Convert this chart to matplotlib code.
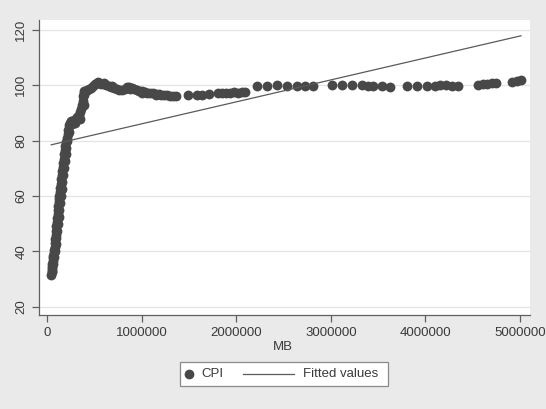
import matplotlib.pyplot as plt
from matplotlib.lines import Line2D
from matplotlib.patches import Rectangle

# money base (MB) and consumer price index (CPI)
mb = [45e3, 48e3, 51e3, 54e3, 57e3, 60e3, 64e3, 68e3, 72e3, 76e3,
      80e3, 84e3, 88e3, 92e3, 96e3, 100e3, 104e3, 108e3, 112e3, 116e3,
      120e3, 124e3, 128e3, 132e3, 136e3, 140e3, 145e3, 150e3, 155e3, 160e3,
      165e3, 170e3, 176e3, 182e3, 188e3, 195e3, 202e3, 210e3, 218e3, 226e3,
      235e3, 245e3, 258e3, 272e3, 288e3, 305e3, 322e3, 338e3, 352e3, 362e3,
      370e3, 376e3, 381e3, 386e3, 395e3, 410e3, 428e3, 446e3, 465e3, 485e3,
      505e3, 525e3, 548e3, 572e3, 598e3, 625e3, 652e3, 680e3, 708e3, 736e3,
      764e3, 792e3, 820e3, 848e3, 872e3, 895e3, 920e3, 948e3, 976e3, 1004e3,
      1032e3, 1060e3, 1090e3, 1120e3, 1150e3, 1180e3, 1210e3, 1240e3, 1270e3, 1300e3,
      1330e3, 1360e3,
      # second, slightly shifted strand in the steep part
      58e3, 66e3, 74e3, 82e3, 90e3, 98e3, 106e3, 114e3, 122e3, 130e3,
      138e3, 146e3, 154e3, 162e3, 170e3, 178e3, 186e3, 196e3, 206e3, 216e3,
      230e3, 262e3, 300e3, 345e3, 392e3, 395e3, 540e3, 600e3, 690e3, 880e3,
      1000e3, 1150e3,
      1490e3, 1586e3, 1638e3, 1713e3, 1808e3, 1850e3, 1892e3, 1934e3, 1977e3, 2019e3,
      2061e3, 2093e3, 2220e3, 2326e3, 2431e3, 2537e3, 2643e3, 2727e3, 2812e3, 3013e3,
      3118e3, 3224e3, 3330e3, 3393e3, 3446e3, 3541e3, 3626e3, 3806e3, 3911e3, 4017e3,
      4102e3, 4154e3, 4220e3, 4281e3, 4345e3, 4556e3, 4609e3, 4651e3, 4704e3, 4746e3,
      4915e3, 4968e3, 5011e3]
cpi = [31.5, 32.5, 33.5, 34.5, 35.5, 36.5, 37.5, 38.5, 39.5, 40.5,
       41.5, 43.0, 44.5, 46.0, 47.5, 49.0, 50.5, 52.0, 53.5, 55.0,
       56.5, 58.0, 59.0, 60.0, 61.5, 63.0, 64.5, 66.0, 67.5, 69.0,
       70.5, 72.0, 73.5, 75.0, 76.5, 78.0, 79.5, 81.0, 82.5, 84.0,
       85.5, 86.5, 87.0, 87.2, 87.5, 88.0, 88.6, 89.3, 90.2, 91.5,
       93.0, 94.5, 96.0, 97.2, 97.8, 98.0, 98.2, 98.6, 99.2, 99.8,
       100.3, 100.7, 100.8, 100.6, 100.3, 100.0, 99.7, 99.4, 99.0, 98.7,
       98.4, 98.3, 98.7, 99.3, 99.5, 99.0, 98.5, 98.2, 98.0, 97.8,
       97.6, 97.4, 97.3, 97.1, 96.9, 96.8, 96.6, 96.5, 96.4, 96.3,
       96.2, 96.2,
       33.0, 35.5, 38.0, 40.0, 42.5, 45.0, 47.5, 50.0, 52.5, 55.0,
       57.5, 60.0, 62.5, 65.0, 67.5, 70.0, 72.5, 75.0, 77.5, 80.0,
       83.0, 86.0, 86.5, 88.0, 93.0, 96.5, 101.3, 100.9, 99.6, 98.6,
       97.2, 96.4,
       96.4, 96.4, 96.6, 97.0, 97.2, 97.3, 97.3, 97.4, 97.5, 97.4,
       97.5, 97.6, 99.6, 99.8, 100.0, 99.8, 99.6, 99.6, 99.6, 100.1,
       100.0, 100.1, 100.0, 99.8, 99.6, 99.6, 99.5, 99.8, 99.7, 99.7,
       99.9, 100.1, 100.2, 99.9, 99.8, 100.1, 100.4, 100.6, 100.8, 100.7,
       101.2, 101.5, 101.8]

# fitted values (OLS line), end points
fit_x = [45e3, 5011e3]
fit_y = [78.5, 117.9]

xticks = [0, 1000000, 2000000, 3000000, 4000000, 5000000]
yticks = [20, 40, 60, 80, 100, 120]

bg = "#eaeaea"
dot = "#484848"
linec = "#5a5a5a"
txt = "#3a3a3a"

plt.rcParams['font.family'] = ['Liberation Sans', 'DejaVu Sans']

fig = plt.figure(figsize=(5.46, 4.09), dpi=100, facecolor=bg)
ax = fig.add_axes([39 / 546, 1 - 315 / 409, 491 / 546, 295 / 409])
ax.set_facecolor("white")

ax.scatter(mb, cpi, s=50, color=dot, linewidths=0, zorder=3)
ax.plot(fit_x, fit_y, color=linec, lw=0.9, zorder=4)

ax.set_xlim(-84.6e3, 5106e3)
ax.set_ylim(17.0, 123.6)
ax.set_xticks(xticks)
ax.set_xticklabels([str(v) for v in xticks])
ax.set_yticks(yticks)
ax.set_yticklabels([str(v) for v in yticks], rotation=90, va="center")

for s in ["top", "right"]:
    ax.spines[s].set_visible(False)
for s in ["left", "bottom"]:
    ax.spines[s].set_color("#606060")
    ax.spines[s].set_linewidth(0.9)
ax.tick_params(axis="both", colors="#606060", labelcolor=txt, labelsize=9.5,
               length=5, width=0.9, direction="out")
ax.grid(axis="y", color="#e4e4e4", lw=0.9, zorder=0)
ax.set_axisbelow(True)

fig.text(283 / 546, 1 - 347 / 409, "MB", ha="center", va="center",
         fontsize=9.5, color=txt)

# legend box below the plot, drawn in figure pixels
def fx(px):
    return px / 546

def fy(py):
    return 1 - py / 409

fig.patches.append(Rectangle((fx(180), fy(386)), fx(388) - fx(180), fy(362) - fy(386),
                             transform=fig.transFigure, facecolor="white",
                             edgecolor="#8a8a8a", lw=0.9))
fig.lines.append(Line2D([fx(189)], [fy(374)], transform=fig.transFigure,
                        marker="o", markersize=6, color=dot, lw=0))
fig.text(fx(201), fy(374), "CPI", ha="left", va="center", fontsize=9.5, color=txt)
fig.lines.append(Line2D([fx(243), fx(294)], [fy(374), fy(374)],
                        transform=fig.transFigure, color=linec, lw=0.9))
fig.text(fx(303), fy(374), "Fitted values", ha="left", va="center",
         fontsize=9.5, color=txt)

fig.savefig("out.png", dpi=100, facecolor=bg)
